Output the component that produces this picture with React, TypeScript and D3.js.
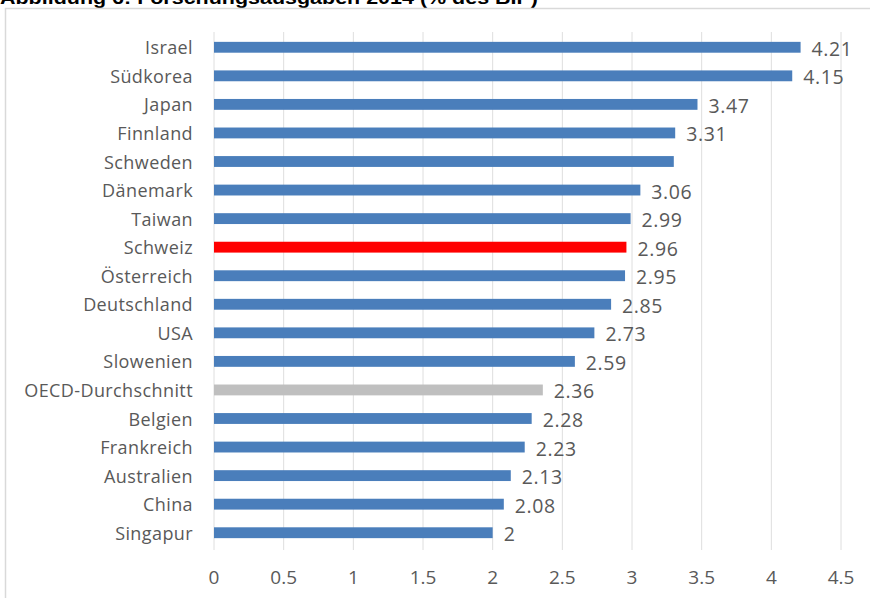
import React from "react";
import * as d3 from "d3";

const countries = [
  "Israel", "Südkorea", "Japan", "Finnland", "Schweden", "Dänemark", "Taiwan",
  "Schweiz", "Österreich", "Deutschland", "USA", "Slowenien", "OECD-Durchschnitt",
  "Belgien", "Frankreich", "Australien", "China", "Singapur",
];
const values = [4.21, 4.15, 3.47, 3.31, 3.3, 3.06, 2.99, 2.96, 2.95, 2.85, 2.73, 2.59, 2.36, 2.28, 2.23, 2.13, 2.08, 2];
const valueLabels = ["4.21", "4.15", "3.47", "3.31", "", "3.06", "2.99", "2.96", "2.95", "2.85", "2.73", "2.59", "2.36", "2.28", "2.23", "2.13", "2.08", "2"];
const ticks = [0, 0.5, 1, 1.5, 2, 2.5, 3, 3.5, 4, 4.5];
const tickLabels = ["0", "0.5", "1", "1.5", "2", "2.5", "3", "3.5", "4", "4.5"];
const title = "Abbildung 6: Forschungsausgaben 2014 (% des BIP)";

const W = 870, H = 598;
const BLUE = "#4a7ebb", RED = "#ff0000", GREY = "#bfbfbf";
const TEXT = "#595959";
const FONT = "'Open Sans', Lato, sans-serif";

export default function App() {
  const x = d3.scaleLinear().domain([0, 4.5]).range([214, 841]);
  const y = d3.scaleBand<string>().domain(countries).range([33, 547]).paddingInner(0.62).paddingOuter(0.31);
  const color = (c: string) => (c === "Schweiz" ? RED : c === "OECD-Durchschnitt" ? GREY : BLUE);
  return (
    <svg width={W} height={H} style={{ position: "absolute", left: 0, top: 0, background: "#fff" }}>
      <text x={0} y={4} fontFamily="Arial, 'Liberation Sans', sans-serif" fontWeight="bold" fontSize={18} fill="#000" textLength={538} lengthAdjust="spacingAndGlyphs">{title}</text>
      <rect x={5.5} y={8.5} width={W} height={H} fill="none" stroke="#d9d9d9" strokeWidth={1.5} />
      {ticks.map((t) => (
        <line key={t} x1={x(t)} x2={x(t)} y1={32} y2={550} stroke="#dedede" strokeWidth={1} />
      ))}
      {countries.map((c, i) => (
        <g key={c}>
          <rect x={x(0)} y={y(c)!} width={x(values[i]) - x(0)} height={y.bandwidth()} fill={color(c)} />
          <text x={193} y={y(c)! + y.bandwidth() / 2} textAnchor="end" dominantBaseline="central" fontFamily={FONT} fontSize={18} letterSpacing={0.4} fill={TEXT}>{c}</text>
          {valueLabels[i] && (
            <text x={x(values[i]) + 11} y={y(c)! + y.bandwidth() / 2 + 1} dominantBaseline="central" fontFamily={FONT} fontSize={19.5} letterSpacing={0.6} fill={TEXT}>{valueLabels[i]}</text>
          )}
        </g>
      ))}
      {ticks.map((t, i) => (
        <text key={t} x={x(t)} y={577} textAnchor="middle" dominantBaseline="central" fontFamily={FONT} fontSize={19} fill={TEXT}>{tickLabels[i]}</text>
      ))}
    </svg>
  );
}
